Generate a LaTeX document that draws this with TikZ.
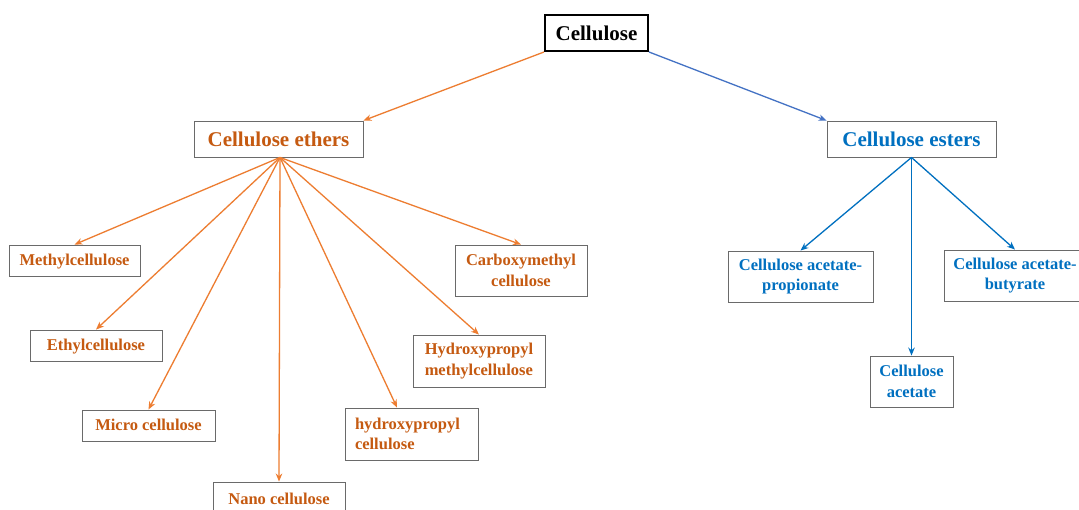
\documentclass[tikz,border=0pt]{standalone}
\usepackage{fontspec}
\setmainfont{Liberation Serif}
\usetikzlibrary{arrows.meta}
\definecolor{otext}{HTML}{C55A11}
\definecolor{btext}{HTML}{0070C0}
\definecolor{oline}{HTML}{ED7D31}
\definecolor{bline}{HTML}{4472C4}
\definecolor{boxgray}{HTML}{6A6A6A}
\tikzset{
  box/.style={draw=boxgray, line width=0.9pt, inner sep=0pt, font=\fontsize{16.5}{20.5}\selectfont\bfseries},
  bigbox/.style={box, font=\fontsize{21}{25}\selectfont\bfseries},
  low/.style={text height=13pt, text depth=2.3pt},
  eth/.style={text=otext},
  est/.style={text=btext},
  tip/.style={-{Stealth[length=8pt,width=6.5pt]}},
  oarr/.style={draw=oline, line width=1.3pt, tip},
  barr/.style={draw=btext, line width=1.3pt, tip},
}
\begin{document}
\begin{tikzpicture}[x=1pt,y=-1pt]
\useasboundingbox (0,0) rectangle (1079,510);
\clip (0,0) rectangle (1079,510);
\fill[white] (0,0) rectangle (1079,510);
\node[bigbox, draw=black, line width=2pt, minimum width=103pt, minimum height=36pt] (cel) at (596.5,33) {Cellulose};
\node[bigbox, eth, minimum width=169pt, minimum height=36pt] (eth) at (278.5,139) {Cellulose ethers};
\node[bigbox, est, minimum width=169pt, minimum height=36pt] (est) at (911.5,139) {Cellulose esters};
% ethers children
\node[box, eth, low, minimum width=131pt, minimum height=31pt] (mc) at (74.5,260.5) {Methylcellulose};
\node[box, eth, low, minimum width=132pt, minimum height=31pt] (ec) at (96,345.5) {Ethylcellulose};
\node[box, eth, low, minimum width=133pt, minimum height=31pt] (mic) at (148.5,425.5) {Micro cellulose};
\node[box, eth, minimum width=132pt, minimum height=34pt] (nano) at (279,499) {Nano cellulose};
\node[box, eth, minimum width=133pt, minimum height=52pt, text width=113pt, align=left] (hpc) at (411.5,434) {hydroxypropyl\\cellulose};
\node[box, eth, minimum width=132pt, minimum height=52pt, align=left] (hpmc) at (479,361) {Hydroxypropyl\\methylcellulose};
\node[box, eth, minimum width=132pt, minimum height=51pt, align=center] (cmc) at (521,270.5) {Carboxymethyl\\cellulose};
% esters children
\node[box, est, minimum width=145pt, minimum height=51pt, align=center] (cap) at (800.5,276.5) {Cellulose acetate-\\propionate};
\node[box, est, minimum width=83pt, minimum height=51pt, align=center] (ca) at (911.5,381.5) {Cellulose\\acetate};
\node[box, est, minimum width=142pt, minimum height=51pt, align=center] (cab) at (1015,275.5) {Cellulose acetate-\\butyrate};
% connectors
\draw[oarr] (cel.south west) -- (eth.north east);
\draw[draw=bline, line width=1.3pt, tip] (cel.south east) -- (est.north west);
\coordinate (es) at ([xshift=1.5pt]eth.south);
\draw[oarr] (es) -- (mc.north);
\draw[oarr] (es) -- (ec.north);
\draw[oarr] (es) -- (mic.north);
\draw[oarr] (es) -- (nano.north);
\draw[oarr] (es) -- ([xshift=-14.5pt]hpc.north);
\draw[oarr] (es) -- (hpmc.north);
\draw[oarr] (es) -- (cmc.north);
\coordinate (ss) at (est.south);
\draw[barr] (ss) -- (cap.north);
\draw[barr] (ss) -- (ca.north);
\draw[barr] (ss) -- (cab.north);
\end{tikzpicture}
\end{document}
